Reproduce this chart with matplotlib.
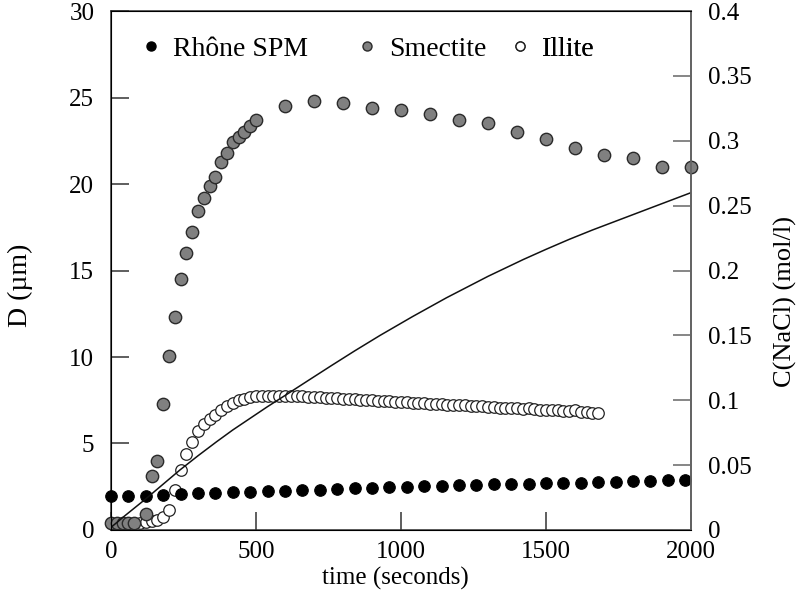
import matplotlib
matplotlib.use("Agg")
import matplotlib.pyplot as plt
from matplotlib.lines import Line2D

plt.rcParams["font.family"] = ["Liberation Serif", "DejaVu Serif"]

# Rhône SPM (filled black)
rhone_t = [0, 60, 120, 180, 240, 300, 360, 420, 480, 540, 600, 660, 720, 780, 840,
           900, 960, 1020, 1080, 1140, 1200, 1260, 1320, 1380, 1440, 1500, 1560,
           1620, 1680, 1740, 1800, 1860, 1920, 1980]
rhone_d = [1.98, 1.98, 1.99, 2.05, 2.08, 2.11, 2.14, 2.17, 2.20, 2.23, 2.26, 2.29,
           2.32, 2.36, 2.40, 2.44, 2.48, 2.51, 2.54, 2.57, 2.60, 2.62, 2.64, 2.66,
           2.68, 2.70, 2.72, 2.74, 2.76, 2.78, 2.81, 2.84, 2.87, 2.90]

# Smectite (grey)
smec_t = [0, 20, 40, 60, 80, 120, 140, 160, 180, 200, 220, 240, 260, 280, 300, 320,
          340, 360, 380, 400, 420, 440, 460, 480, 500, 600, 700, 800, 900, 1000,
          1100, 1200, 1300, 1400, 1500, 1600, 1700, 1800, 1900, 2000]
smec_d = [0.42, 0.42, 0.42, 0.42, 0.42, 0.95, 3.1, 4.0, 7.26, 10.05, 12.3, 14.5,
          16.0, 17.2, 18.45, 19.2, 19.9, 20.4, 21.3, 21.8, 22.4, 22.7, 23.0, 23.35,
          23.7, 24.5, 24.8, 24.7, 24.4, 24.3, 24.05, 23.7, 23.5, 23.0, 22.6, 22.1,
          21.7, 21.5, 21.0, 21.0]

# Illite (open circles)
illite_t = [0, 20, 40, 60, 80, 100, 120, 140, 160, 180, 200, 220, 240, 260, 280,
            300, 320, 340, 360, 380, 400, 420, 440, 460, 480, 500, 520, 540, 560,
            580, 600, 620, 640, 660, 680, 700, 720, 740, 760, 780, 800, 820, 840,
            860, 880, 900, 920, 940, 960, 980, 1000, 1020, 1040, 1060, 1080, 1100,
            1120, 1140, 1160, 1180, 1200, 1220, 1240, 1260, 1280, 1300, 1320, 1340,
            1360, 1380, 1400, 1420, 1440, 1460, 1480, 1500, 1520, 1540, 1560, 1580,
            1600, 1620, 1640, 1660, 1680]
illite_d = [0.4, 0.4, 0.4, 0.4, 0.4, 0.42, 0.45, 0.5, 0.6, 0.78, 1.15, 2.3, 3.45,
            4.4, 5.1, 5.7, 6.1, 6.4, 6.65, 6.95, 7.15, 7.35, 7.5, 7.6, 7.68, 7.72,
            7.75, 7.76, 7.76, 7.76, 7.75, 7.74, 7.73, 7.72, 7.71, 7.69, 7.67, 7.65,
            7.63, 7.61, 7.59, 7.57, 7.55, 7.53, 7.51, 7.49, 7.47, 7.45, 7.44, 7.42,
            7.40, 7.38, 7.36, 7.35, 7.33, 7.31, 7.29, 7.27, 7.25, 7.24, 7.22, 7.20,
            7.18, 7.16, 7.14, 7.12, 7.10, 7.08, 7.06, 7.05, 7.03, 7.01, 7.06, 6.98,
            6.96, 6.95, 6.93, 6.91, 6.89, 6.88, 6.96, 6.84, 6.82, 6.79, 6.76]

# NaCl concentration (right axis)
nacl_t = [0, 48, 120, 238, 300, 364, 420, 480, 540, 606, 680, 760, 840, 928, 1040,
          1157, 1300, 1422, 1500, 1580, 1660, 1732, 1870, 2000]
nacl_c = [0.002, 0.011, 0.024, 0.0463, 0.0572, 0.0680, 0.0771, 0.0861, 0.0951,
          0.1045, 0.1152, 0.1267, 0.1380, 0.1500, 0.1645, 0.1790, 0.1955, 0.2085,
          0.2163, 0.2240, 0.2312, 0.2373, 0.2490, 0.2600]

labels = ["Rhône SPM", "Smectite", "Illite"]

fig = plt.figure(figsize=(8.03, 5.99), dpi=100)
ax = fig.add_axes([0.1382, 0.1152, 0.7223, 0.8664])

ax.plot(illite_t, illite_d, "o", ms=8.3, mfc="white", mec="#222222", mew=0.9,
        zorder=2, clip_on=False)
ax.plot(rhone_t, rhone_d, "o", ms=8.3, mfc="black", mec="black", mew=0.8,
        zorder=3, clip_on=False)
ax.plot(smec_t, smec_d, "o", ms=8.9, mfc="#808080", mec="#2a2a2a", mew=1.0,
        zorder=4, clip_on=False)

ax.set_xlim(0, 2000)
ax.set_ylim(0, 30)
ax.set_xticks([0, 500, 1000, 1500, 2000])
ax.set_yticks([0, 5, 10, 15, 20, 25, 30])
ax.tick_params(axis="both", direction="in", length=13, width=1.1, labelsize=18,
               color="#333333")
ax.tick_params(axis="y", pad=12, right=False)
ax.tick_params(axis="x", pad=8, top=False)
for s in ax.spines.values():
    s.set_color("#333333")
    s.set_linewidth(1.1)
ax.set_xlabel("time (seconds)", fontsize=18)
ax.set_ylabel("D (µm)", fontsize=20)
ax.xaxis.set_label_coords(0.49, -0.072)
ax.yaxis.set_label_coords(-0.134, 0.472)

ax2 = ax.twinx()
ax2.plot(nacl_t, nacl_c, "-", color="#111111", lw=1.1)
ax2.set_ylim(0, 0.4)
ax2.set_yticks([0, 0.05, 0.1, 0.15, 0.2, 0.25, 0.3, 0.35, 0.4])
ax2.set_yticklabels(["0", "0.05", "0.1", "0.15", "0.2", "0.25", "0.3", "0.35", "0.4"])
ax2.tick_params(axis="y", direction="in", length=13, width=1.1, labelsize=18,
                pad=12, color="#666666")
ax2.spines["right"].set_color("#666666")
ax2.spines["right"].set_linewidth(1.3)
ax2.set_ylabel("C(NaCl) (mol/l)", fontsize=19)
ax2.yaxis.set_label_coords(1.143, 0.44)

# legend entries are spaced unevenly in the original, so place each one
styles = [
    dict(mfc="black", mec="black"),
    dict(mfc="#808080", mec="#2a2a2a"),
    dict(mfc="white", mec="#222222"),
]
anchors = [0.05, 0.4224, 0.686]
for lab, st, x0 in zip(labels, styles, anchors):
    h = Line2D([], [], ls="", marker="o", ms=6.5, **st)
    leg = ax.legend([h], [lab], loc="center left", bbox_to_anchor=(x0, 0.926),
                    frameon=False, fontsize=20, handlelength=0.8,
                    handletextpad=0.4, borderpad=0, borderaxespad=0)
    ax.add_artist(leg)

fig.savefig("out.png", dpi=100)
